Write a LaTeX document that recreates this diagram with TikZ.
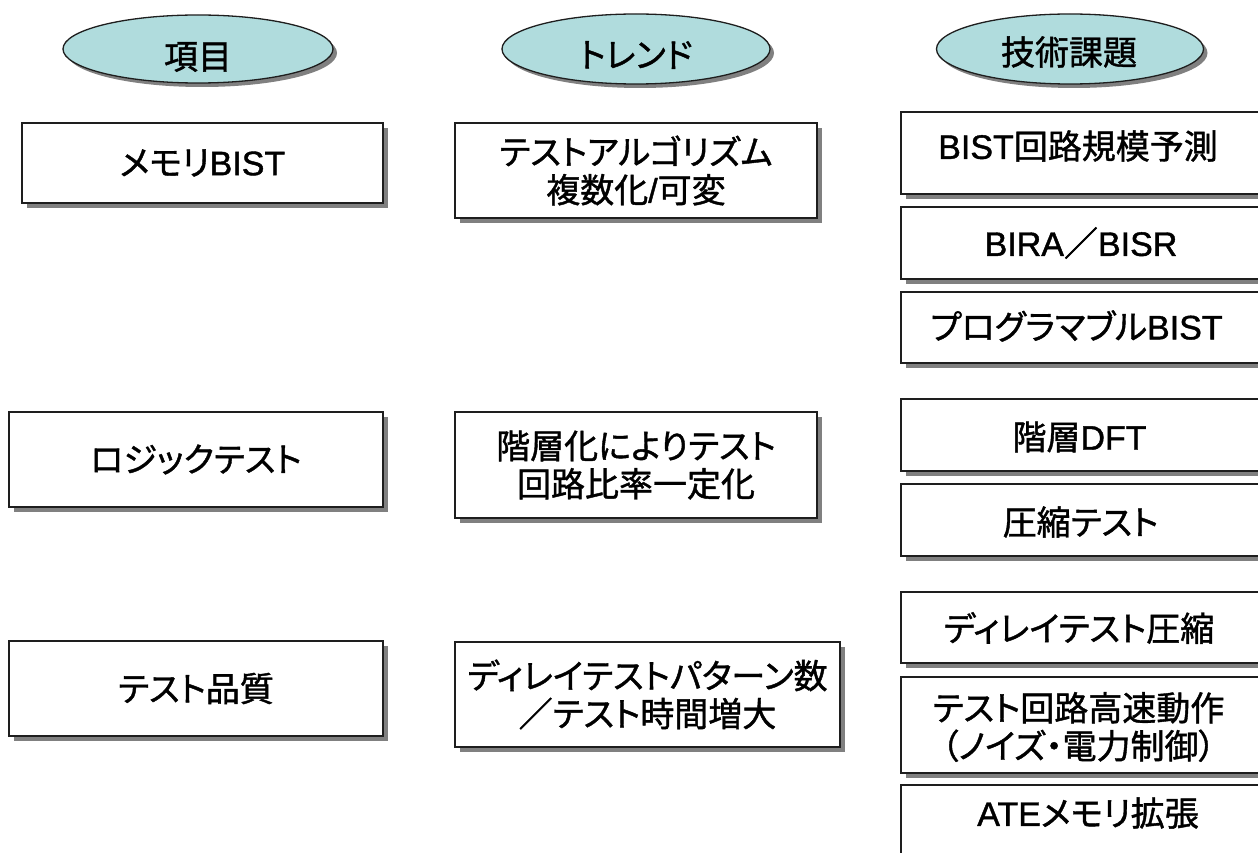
\documentclass[tikz,border=0pt]{standalone}
\usepackage{fontspec}
\usetikzlibrary{shapes.geometric,shadows}
\newfontfamily\jp{Noto Sans CJK JP}[RawFeature=+palt,FakeBold=1.2]
\newfontfamily\lat{Liberation Sans}[FakeBold=1.2]
\definecolor{ovalfill}{RGB}{176,220,221}
\definecolor{edge}{RGB}{30,30,30}
\definecolor{shade}{RGB}{128,128,128}
\begin{document}
\begin{tikzpicture}[x=1pt,y=-1pt,
  boxshape/.style={draw=edge,line width=1.3pt,fill=white,rectangle,inner sep=0pt,
    drop shadow={shadow xshift=5pt,shadow yshift=-5pt,fill=shade,opacity=1}},
  ovalshape/.style={draw=edge,line width=1.3pt,fill=ovalfill,ellipse,inner sep=0pt,
    drop shadow={shadow xshift=4pt,shadow yshift=-4pt,fill=shade,opacity=1}},
  txt/.style={font=\jp\fontsize{34}{38}\selectfont,align=center,inner sep=0pt,text=black}]
\useasboundingbox (0,0) rectangle (1258,853);
\clip (0,0) rectangle (1258,853);
\fill[white] (0,0) rectangle (1258,853);

% header ovals
\node[ovalshape,minimum width=270,minimum height=68] (o1) at (198,49) {};
\node[txt] (t1) at (198,57) {項目};
\node[ovalshape,minimum width=268,minimum height=70] (o2) at (636,49) {};
\node[txt] (t2) at (636,55) {トレンド};
\node[ovalshape,minimum width=267,minimum height=70] (o3) at (1070,49) {};
\node[txt] (t3) at (1069,52) {技術課題};

% left column
\node[boxshape,txt,minimum width=361,minimum height=80] (l1) at (202.5,163) {メモリ{\lat BIST}};
\node[boxshape,txt,minimum width=374,minimum height=95] (l2) at (196,459.5) {ロジックテスト};
\node[boxshape,txt,minimum width=374,minimum height=95] (l3) at (196,688.5) {テスト品質};

% middle column
\node[boxshape,txt,minimum width=362,minimum height=95] (m1) at (636,170.5) {テストアルゴリズム\\複数化{\lat /}可変};
\node[boxshape,txt,minimum width=362,minimum height=106] (m2) at (636,465) {階層化によりテスト\\回路比率一定化};
\node[boxshape,txt,minimum width=385,minimum height=105] (m3) at (647.5,694.5) {ディレイテストパターン数\\／テスト時間増大};

% right column
\node[boxshape,minimum width=364,minimum height=82] (r1) at (1083,153) {};
\node[txt] (rt1) at (1078,146) {{\lat BIST}回路規模予測};
\node[boxshape,minimum width=364,minimum height=72] (r2) at (1083,243) {};
\node[txt] (rt2) at (1081,243) {{\lat BIRA}／{\lat BISR}};
\node[boxshape,minimum width=364,minimum height=71] (r3) at (1083,327.5) {};
\node[txt] (rt3) at (1076.5,326) {プログラマブル{\lat BIST}};
\node[boxshape,minimum width=364,minimum height=72] (r4) at (1083,435) {};
\node[txt] (rt4) at (1079.5,437) {階層{\lat DFT}};
\node[boxshape,minimum width=364,minimum height=72] (r5) at (1083,520) {};
\node[txt] (rt5) at (1080.5,522) {圧縮テスト};
\node[boxshape,minimum width=364,minimum height=71] (r6) at (1083,627.5) {};
\node[txt] (rt6) at (1079,628) {ディレイテスト圧縮};
\node[boxshape,minimum width=364,minimum height=96] (r7) at (1083,725) {};
\node[txt] (rt7) at (1078.5,727) {テスト回路高速動作\\（ノイズ・電力制御）};
\node[boxshape,minimum width=364,minimum height=72] (r8) at (1083,821) {};
\node[txt] (rt8) at (1088,813) {{\lat ATE}メモリ拡張};
\end{tikzpicture}
\end{document}
